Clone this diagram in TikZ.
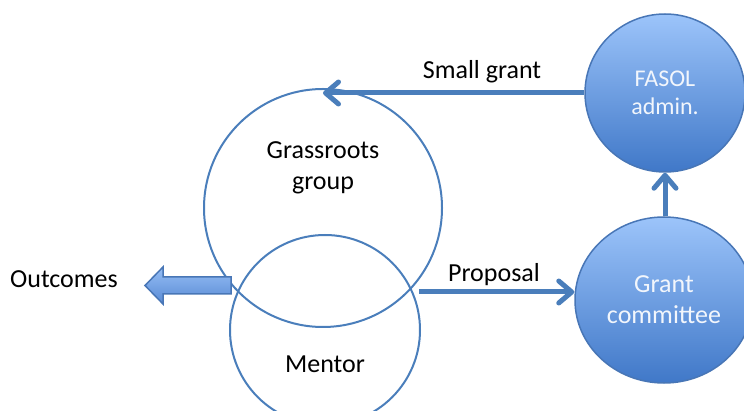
\documentclass[tikz,border=0pt]{standalone}
\usepackage{fontspec}
\setmainfont{Carlito}
\usetikzlibrary{arrows.meta,shapes.geometric,calc}
\definecolor{lineblue}{RGB}{74,126,187}
\definecolor{edgeblue}{RGB}{72,118,182}
\definecolor{topblue}{RGB}{156,196,250}
\definecolor{botblue}{RGB}{64,120,200}
\definecolor{arrtop}{RGB}{150,190,245}
\definecolor{arrbot}{RGB}{88,138,212}
\definecolor{txtwhite}{RGB}{242,246,252}
\tikzset{
  ring/.style={circle, draw=lineblue, line width=2pt, inner sep=0pt},
  ball/.style={ellipse, draw=edgeblue, line width=1.5pt, top color=topblue, bottom color=botblue, text=txtwhite, align=center, inner sep=0pt},
  lbl/.style={font=\fontsize{26}{31}\selectfont, align=center, inner sep=0pt},
  flow/.style={draw=lineblue, line width=5pt, -{Straight Barb[length=13pt,width=22pt,line cap=round,line join=round]}},
  blockarrow/.style={draw=edgeblue, line width=1.5pt, top color=arrtop, bottom color=arrbot, line join=miter}
}
\begin{document}
\begin{tikzpicture}[x=1pt,y=-1pt]
\useasboundingbox (0,0) rectangle (744,411);
\clip (0,0) rectangle (744,411);
% outline circles
\node[ring, minimum size=238pt] (grass) at (323,208) {};
\node[ring, minimum size=190pt] (mentor) at (325,330) {};
% filled circles
\node[ball, minimum width=160pt, minimum height=158pt, font=\fontsize{24}{28}\selectfont] (fasol) at (665,93) {FASOL\\admin.};
\node[ball, minimum width=178pt, minimum height=166pt, font=\fontsize{26}{31}\selectfont] (committee) at (664,300) {Grant\\committee};
% texts
\node[lbl] (grasstxt) at (323,167.5) {Grassroots\\group};
\node[lbl, anchor=base] (mentortxt) at (325,373) {Mentor};
\node[lbl, anchor=base] (outtxt) at (64,288) {Outcomes};
\node[lbl, anchor=base] (sgtxt) at (482,79) {Small grant};
\node[lbl, anchor=base] (proptxt) at (494,282) {Proposal};
% outcomes block arrow
\draw[blockarrow] (231,277) -- (163,277) -- (163,267) -- (145,285.5) -- (163,304) -- (163,294) -- (231,294) -- cycle;
% connectors
\draw[flow] (fasol.west) -- (fasol.west -| grass.north);
\coordinate (pstart) at (419,292);
\draw[flow] (pstart) -- (pstart -| committee.west);
\draw[flow] (fasol.south |- committee.north) -- (fasol.south);
\end{tikzpicture}
\end{document}
